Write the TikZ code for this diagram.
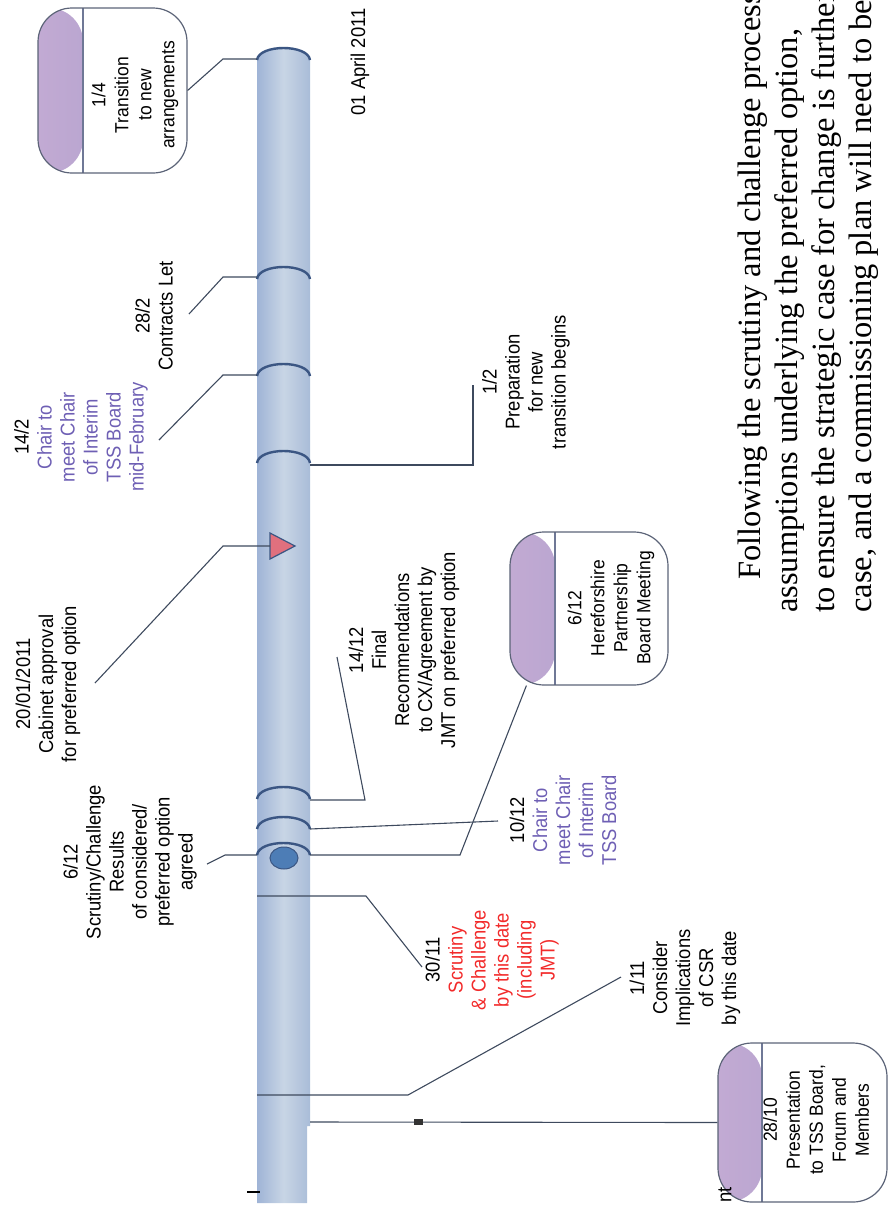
\documentclass[tikz,border=0pt]{standalone}
\usepackage{fontspec}
\usetikzlibrary{shapes.geometric}
\newfontfamily\lblfont{Liberation Sans}[FakeStretch=0.92]
\newfontfamily\bodyfont{Liberation Serif}
\definecolor{pipeL}{HTML}{9FB4D6}
\definecolor{pipeM}{HTML}{C8D5E5}
\definecolor{pipeR}{HTML}{A9BCD8}
\definecolor{ringc}{HTML}{3B5683}
\definecolor{leadc}{HTML}{3E4A5E}
\definecolor{boxedge}{HTML}{5C6478}
\definecolor{bandL}{HTML}{C2AAD3}
\definecolor{bandR}{HTML}{A99DCB}
\definecolor{bandline}{HTML}{6F7896}
\definecolor{chairc}{HTML}{6E5FB4}
\definecolor{scrut}{HTML}{F22A2A}
\definecolor{tric}{HTML}{E0707E}
\definecolor{dotc}{HTML}{4D7DB6}
\begin{document}
\begin{tikzpicture}[x=1pt,y=-1pt,
  lbl/.style={font=\lblfont\fontsize{20}{23}\selectfont, align=center, rotate=90, inner sep=0pt},
  boxtxt/.style={font=\lblfont\fontsize{19}{23}\selectfont, align=center, rotate=90, inner sep=0pt},
  body/.style={font=\bodyfont\fontsize{32.5}{37}\selectfont, rotate=90, anchor=base west, inner sep=0pt},
  lead/.style={draw=leadc, line width=1.1pt},
  ringarc/.style={draw=ringc, line width=2.4pt},
  callbox/.style={draw=boxedge, line width=1.2pt, fill=white, rounded corners=34pt, inner sep=0pt,
    path picture={
      \shade[left color=bandL, right color=bandR]
        (path picture bounding box.north west) rectangle ([xshift=#1]path picture bounding box.south west);
      \draw[bandline, line width=1.8pt]
        ([xshift=#1]path picture bounding box.north west) -- ([xshift=#1]path picture bounding box.south west);
    }}
]
\useasboundingbox (0,0) rectangle (889,1213);
\clip (0,0) rectangle (889,1213);

% the time line: a shaded pipe with a rounded top
\shade[left color=pipeL, right color=pipeR, middle color=pipeM]
  (257,1203) -- (257,60) .. controls (259,44) and (308,44) .. (310,60)
  -- (310,1126) -- (307,1126) -- (307,1203) -- cycle;

% milestone on 6/12
\node[ellipse, draw=ringc, line width=1pt, fill=dotc, minimum width=28pt, minimum height=22pt, inner sep=0pt] (dot612) at (284,858) {};

% rings round the pipe
\foreach \ry in {60,279,376,463,799,829,855}
  \draw[ringarc] (257,\ry) .. controls (259,\ry-16) and (308,\ry-16) .. (310,\ry);

% milestone on 20/01
\draw[fill=tric, draw=ringc, line width=1.2pt] (270,533) -- (295,546) -- (270,559) -- cycle;
\coordinate (tri) at (270,546);

% anchor points on the pipe
\coordinate (p14)   at (257,59);
\coordinate (p282)  at (257,277);
\coordinate (p142)  at (257,375);
\coordinate (p12)   at (310,465);
\coordinate (p1412) at (310,800);
\coordinate (p1012) at (310,829);
\coordinate (p612l) at (257,855);
\coordinate (p612r) at (310,855);
\coordinate (p3011) at (257,896);
\coordinate (p111)  at (257,1095);
\coordinate (p2810) at (310,1122);

% free ends of the leaders next to their labels
\coordinate (e282)  at (189,314);
\coordinate (e142)  at (159,440);
\coordinate (e12)   at (473,385);
\coordinate (e2001) at (95,683);
\coordinate (e1412) at (337,657);
\coordinate (e1012) at (498,821);
\coordinate (e612)  at (207,864);
\coordinate (e3011) at (422,967);
\coordinate (e111)  at (621,977);

% callout boxes
\node[callbox=45pt, minimum width=149pt, minimum height=165pt] (box14) at (112.5,90.5) {};
\node[callbox=45pt, minimum width=158pt, minimum height=153pt] (box612) at (589,608.5) {};
\node[callbox=44pt, minimum width=169pt, minimum height=159pt] (box2810) at (802.5,1122.5) {};

% leaders
\draw[lead] (p14) -- (223,59) -- (box14.east);
\draw[lead] (p282) -- (223,277) -- (e282);
\draw[lead] (p142) -- (223,375) -- (e142);
\draw[lead] (p12) -- (473,465) -- (e12);
\draw[lead] (tri) -- (223,546) -- (e2001);
\draw[lead] (p1412) -- (365,800) -- (e1412);
\draw[lead] (p1012) -- (e1012);
\draw[lead] (p612l) -- (225,855) -- (e612);
\draw[lead] (p612r) -- (460,855) -- ([xshift=17pt]box612.south west);
\draw[lead] (p3011) -- (366,896) -- (e3011);
\draw[lead] (p111) -- (408,1095) -- (e111);
\draw[lead] (p2810) -- (box2810.west);
\fill[black!80] (414,1119) rectangle (423,1125);
\draw[black, line width=2pt] (247,1192) -- (260,1192);

% labels
\node[lbl] (t01apr) at (360,62) {01 April 2011};
\node[boxtxt] (t14) at (135,95) {1/4\\Transition\\to new\\arrangements};
\node[lbl] (t282) at (154,316) {28/2\\Contracts Let};
\node[lbl, text=chairc] (t142) at (81,437) {\textcolor{black}{14/2}\\Chair to\\meet Chair\\of Interim\\TSS Board\\mid-February};
\node[lbl] (t12) at (526,382) {1/2\\Preparation\\for new\\transition begins};
\node[lbl] (t2001) at (48,684) {20/01/2011\\Cabinet approval\\for preferred option};
\node[lbl] (t1412) at (404,650) {14/12\\Final\\Recommendations\\to CX/Agreement by\\JMT on preferred option};
\node[boxtxt] (t612b) at (611,608) {6/12\\Hereforshire\\Partnership\\Board Meeting};
\node[lbl, text=chairc] (t1012) at (563,820) {\textcolor{black}{10/12}\\Chair to\\meet Chair\\of Interim\\TSS Board};
\node[lbl] (t612s) at (130,862) {6/12\\Scrutiny/Challenge\\Results\\of considered/\\preferred option\\agreed};
\node[lbl, text=scrut] (t3011) at (492,960) {\textcolor{black}{30/11}\\Scrutiny\\\& Challenge\\by this date\\(including\\JMT)};
\node[lbl] (t111) at (685,978) {1/11\\Consider\\Implications\\of CSR\\by this date};
\node[boxtxt] (t2810) at (816,1120) {28/10\\Presentation\\to TSS Board,\\Forum and\\Members};
\node[lbl] (tnt) at (725,1195) {nt};

% running text beside the chart
\node[body] (par1) at (760,580) {Following the scrutiny and challenge process};
\node[body] (par2) at (797,613) {assumptions underlying the preferred option,};
\node[body] (par3) at (834,613) {to ensure the strategic case for change is further};
\node[body] (par4) at (871,613) {case, and a commissioning plan will need to be};
\end{tikzpicture}
\end{document}
